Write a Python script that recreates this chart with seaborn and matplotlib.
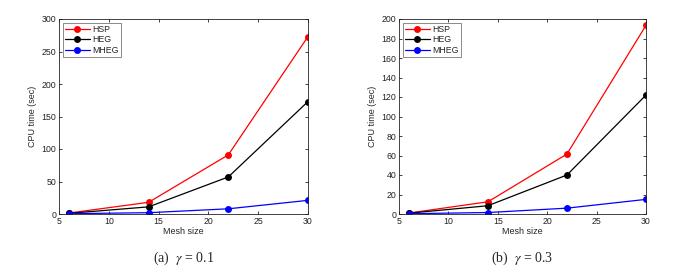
import numpy as np
import pandas as pd
import matplotlib
matplotlib.use("Agg")
import matplotlib.pyplot as plt
import seaborn as sns

mesh = [6, 14, 22, 30]
methods = ["HSP", "HEG", "MHEG"]
colors = {"HSP": "#ff0000", "HEG": "#000000", "MHEG": "#0000ff"}

# gamma = 0.1
hsp_a = [1.5, 18, 91, 273]
heg_a = [1.0, 11, 57, 173]
mheg_a = [0.5, 2, 8, 21]

# gamma = 0.3
hsp_b = [1.0, 12.5, 61.5, 193.5]
heg_b = [0.8, 8.5, 40, 122]
mheg_b = [0.3, 1.5, 6, 15]


def long_df(hsp, heg, mheg):
    rows = []
    for name, vals in zip(methods, [hsp, heg, mheg]):
        for m, v in zip(mesh, vals):
            rows.append({"Mesh size": m, "CPU": v, "method": name})
    return pd.DataFrame(rows)


sns.set_style("ticks")
plt.rcParams["font.family"] = ["Liberation Sans", "DejaVu Sans"]
plt.rcParams["mathtext.fontset"] = "stix"

fig = plt.figure(figsize=(6.86, 2.75), dpi=100)
W, H = 686, 275
ax_a = fig.add_axes([59 / W, 1 - 214 / H, (308 - 59) / W, (214 - 19) / H])
ax_b = fig.add_axes([399 / W, 1 - 214 / H, (646 - 399) / W, (214 - 19) / H])

panels = [
    (ax_a, long_df(hsp_a, heg_a, mheg_a), 300, np.arange(0, 301, 50), "(a)  $\\gamma$ = 0.1"),
    (ax_b, long_df(hsp_b, heg_b, mheg_b), 200, np.arange(0, 201, 20), "(b)  $\\gamma$ = 0.3"),
]

for ax, df, ymax, yticks, cap in panels:
    sns.lineplot(data=df, x="Mesh size", y="CPU", hue="method", palette=colors,
                 marker="o", markersize=5, markeredgewidth=0, linewidth=0.9,
                 ax=ax)
    ax.set_xlim(5, 30)
    ax.set_ylim(0, ymax)
    ax.set_xticks([5, 10, 15, 20, 25, 30])
    ax.set_yticks(yticks)
    ax.tick_params(direction="in", length=2.5, width=0.6, labelsize=6.3,
                   top=True, right=True, pad=2, colors="#222222")
    for s in ax.spines.values():
        s.set_linewidth(0.6)
        s.set_color("#222222")
    ax.set_xlabel("Mesh size", fontsize=6.5, labelpad=1)
    ax.set_ylabel("CPU time (sec)", fontsize=6.5, labelpad=3)
    leg = ax.legend(loc="upper left", fontsize=6.3, frameon=True, fancybox=False,
                    borderpad=0.3, handlelength=2.8, labelspacing=0.15,
                    borderaxespad=0.4, handletextpad=0.3)
    leg.get_frame().set_edgecolor("#555555")
    leg.get_frame().set_linewidth(0.6)
    ax.text(0.5, -0.225, cap, transform=ax.transAxes, ha="center", va="center",
            fontsize=10, family=["Liberation Serif", "DejaVu Serif"])

fig.savefig("out.png", dpi=100)
